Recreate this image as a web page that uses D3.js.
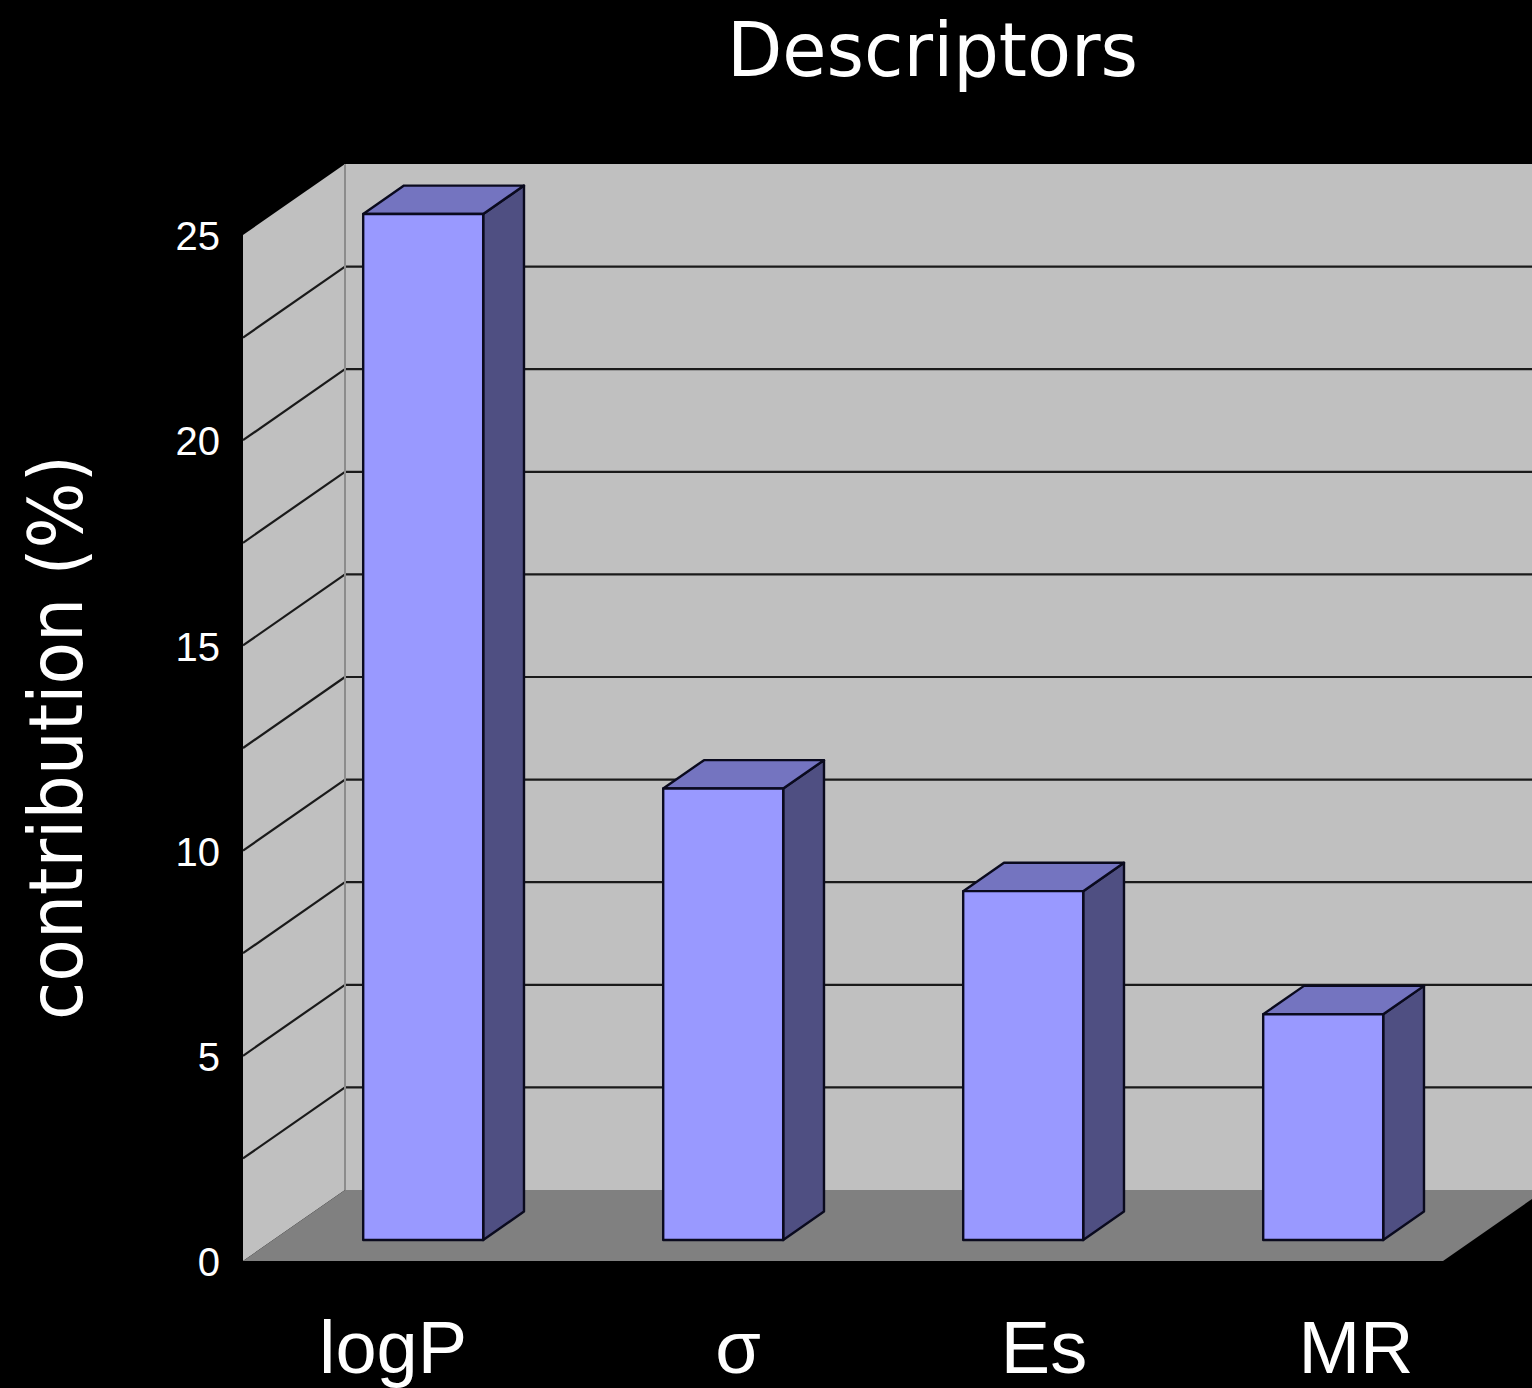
<!DOCTYPE html>
<html>
<head>
<meta charset="utf-8">
<script src="https://cdn.jsdelivr.net/npm/d3@7/dist/d3.min.js"></script>
<style>
  html, body { margin: 0; padding: 0; background: #000; }
  svg { display: block; }
</style>
</head>
<body>
<svg id="chart" width="1532" height="1388"></svg>
<script>
// Descriptor contributions (%)
const categories = ["logP", "σ", "Es", "MR"];
const contributions = [25.0, 11.0, 8.5, 5.5];
const tickValues = [0, 5, 10, 15, 20, 25];
const gridStep = 2.5;

const W = 1532, H = 1388;
const svg = d3.select("#chart");
svg.append("rect").attr("width", W).attr("height", H).attr("fill", "#000");

// Front plane of the 3D box
const x = d3.scaleBand().domain(categories).range([243, 1443])
  .paddingInner(0.6).paddingOuter(0.3);
const y = d3.scaleLinear().domain([0, 25]).range([1261, 235]);

// Oblique depth offset of the whole box
const DEPTH_DX = 102, DEPTH_DY = -71;
const proj = (px, v, d) => [px + d * DEPTH_DX, y(v) + d * DEPTH_DY];
const poly = pts => "M" + pts.map(p => p.join(",")).join("L") + "Z";

const x0 = x.range()[0], x1 = x.range()[1];
const vMax = y.domain()[1];
const farRight = x1 + 400; // back wall runs past the right edge

const g = svg.append("g");

// Back wall
g.append("path")
  .attr("d", poly([proj(x0, 0, 1), proj(x0, vMax, 1), proj(farRight, vMax, 1), proj(farRight, 0, 1)]))
  .attr("fill", "#c0c0c0");

// Side wall
g.append("path")
  .attr("d", poly([proj(x0, 0, 0), proj(x0, vMax, 0), proj(x0, vMax, 1), proj(x0, 0, 1)]))
  .attr("fill", "#c0c0c0");

// Floor
g.append("path")
  .attr("d", poly([proj(x0, 0, 0), proj(x1, 0, 0), proj(x1, 0, 1), proj(x0, 0, 1)]))
  .attr("fill", "#808080");

// Gridlines on back and side walls
const gridVals = d3.range(gridStep, vMax, gridStep);
g.selectAll("line.gback").data(gridVals).join("line")
  .attr("class", "gback")
  .attr("x1", v => proj(x0, v, 1)[0]).attr("y1", v => proj(x0, v, 1)[1])
  .attr("x2", v => proj(farRight, v, 1)[0]).attr("y2", v => proj(farRight, v, 1)[1])
  .attr("stroke", "#1a1a1a").attr("stroke-width", 2.2);
g.selectAll("line.gside").data(gridVals).join("line")
  .attr("class", "gside")
  .attr("x1", v => proj(x0, v, 0)[0]).attr("y1", v => proj(x0, v, 0)[1])
  .attr("x2", v => proj(x0, v, 1)[0]).attr("y2", v => proj(x0, v, 1)[1])
  .attr("stroke", "#1a1a1a").attr("stroke-width", 2.2);

// Corner edge between side wall and back wall
g.append("line")
  .attr("x1", proj(x0, 0, 1)[0]).attr("y1", proj(x0, 0, 1)[1])
  .attr("x2", proj(x0, vMax, 1)[0]).attr("y2", proj(x0, vMax, 1)[1])
  .attr("stroke", "#8c8c8c").attr("stroke-width", 2);

// 3D bars
const D0 = 0.296, D1 = 0.696;
const bars = g.selectAll("g.bar").data(categories.map((c, i) => ({ c, v: contributions[i] })))
  .join("g").attr("class", "bar");
const barStroke = { stroke: "#0a0a1e", "stroke-width": 2.4, "stroke-linejoin": "round" };
function styled(sel) { Object.entries(barStroke).forEach(([k, v]) => sel.attr(k, v)); return sel; }

styled(bars.append("path")
  .attr("d", d => {
    const l = x(d.c), r = l + x.bandwidth();
    return poly([proj(r, 0, D0), proj(r, d.v, D0), proj(r, d.v, D1), proj(r, 0, D1)]);
  })
  .attr("fill", "#4f4f82"));
styled(bars.append("path")
  .attr("d", d => {
    const l = x(d.c), r = l + x.bandwidth();
    return poly([proj(l, d.v, D0), proj(r, d.v, D0), proj(r, d.v, D1), proj(l, d.v, D1)]);
  })
  .attr("fill", "#7474c0"));
styled(bars.append("path")
  .attr("d", d => {
    const l = x(d.c), r = l + x.bandwidth();
    return poly([proj(l, 0, D0), proj(l, d.v, D0), proj(r, d.v, D0), proj(r, 0, D0)]);
  })
  .attr("fill", "#9999ff"));

// Value axis labels
svg.selectAll("text.tick").data(tickValues).join("text")
  .attr("class", "tick")
  .attr("x", 220)
  .attr("y", v => y(v))
  .attr("dy", "0.38em")
  .attr("text-anchor", "end")
  .attr("fill", "#fff")
  .attr("font-family", "Liberation Sans, Arial, sans-serif")
  .attr("font-size", 40)
  .text(v => v);

// Category labels
const labelShift = [0, 45, 51, 63];
svg.selectAll("text.cat").data(categories).join("text")
  .attr("class", "cat")
  .attr("x", (c, i) => x(c) + x.bandwidth() / 2 + labelShift[i])
  .attr("y", 1373)
  .attr("text-anchor", "middle")
  .attr("fill", "#fff")
  .attr("font-family", "Liberation Sans, Arial, sans-serif")
  .attr("font-size", 74)
  .text(c => c);

// Title
svg.append("text")
  .attr("x", 727).attr("y", 76)
  .attr("fill", "#fff")
  .attr("font-family", "DejaVu Sans, sans-serif")
  .attr("font-size", 74)
  .attr("textLength", 411)
  .attr("lengthAdjust", "spacingAndGlyphs")
  .text("Descriptors");

// Value axis title
svg.append("text")
  .attr("transform", "translate(82,1020) rotate(-90)")
  .attr("fill", "#fff")
  .attr("font-family", "DejaVu Sans, sans-serif")
  .attr("font-size", 74)
  .attr("textLength", 565)
  .attr("lengthAdjust", "spacingAndGlyphs")
  .text("contribution (%)");
</script>
</body>
</html>
